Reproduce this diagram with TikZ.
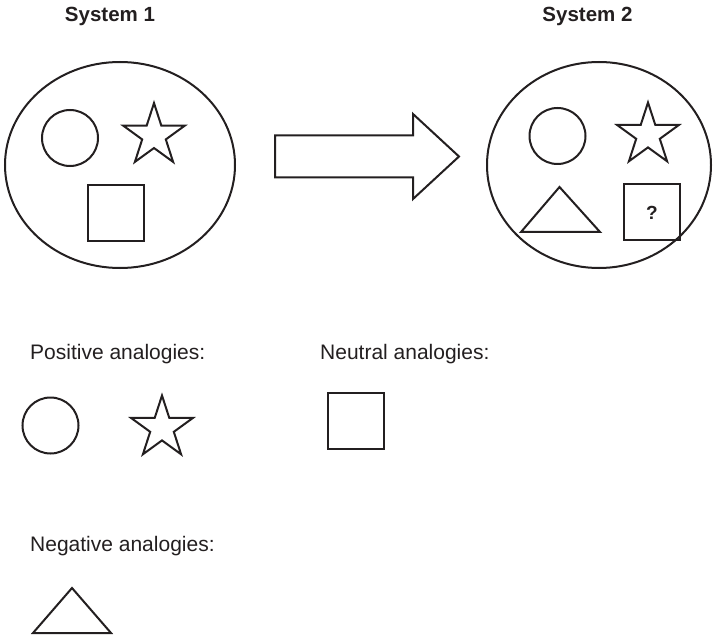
\documentclass[tikz,border=0pt]{standalone}
\usepackage{fontspec}
\setmainfont{Liberation Sans}
\usetikzlibrary{shapes.geometric}
\definecolor{ink}{HTML}{231F20}
\tikzset{
  shp/.style={draw=ink, line width=2pt, inner sep=0pt, outer sep=0pt},
  oval/.style={shp, ellipse},
  rnd/.style={shp, circle, minimum size=56pt},
  sq/.style={shp, rectangle, minimum size=56pt},
  starshape/.style={shp, star, star points=5, star point ratio=2.618, minimum size=65pt},
  lbl/.style={text=ink, inner sep=0pt, font=\fontsize{21}{25}\selectfont},
  title/.style={lbl, font=\fontsize{20.5}{24}\selectfont\bfseries},
}
\begin{document}
\begin{tikzpicture}[x=1pt,y=-1pt]
\useasboundingbox (0,0) rectangle (714,636);
% titles
\node[title, anchor=base] (t1) at (110,22) {System 1};
\node[title, anchor=base] (t2) at (587.5,22) {System 2};
% system 1
\node[oval, minimum width=230pt, minimum height=206pt] (e1) at (120,165) {};
\node[rnd] (c1) at (70,138) {};
\node[starshape] (s1) at (154,135.6) {};
\node[sq] (q1) at (116,213) {};
% system 2
\node[oval, minimum width=224pt, minimum height=206pt] (e2) at (599,165) {};
\node[rnd] (c2) at (557.5,136) {};
\node[starshape] (s2) at (648,135) {};
\node[sq] (q2) at (652,212) {};
\node[title, font=\fontsize{19}{22}\selectfont\bfseries] (qm) at (652,213) {?};
\draw[draw=ink, line width=2pt, line join=miter] (521,232) -- (559.5,187) -- (600,232) -- cycle;
% arrow
\draw[draw=ink, line width=2pt, line join=miter] (275,135.5) -- (413,135.5) -- (413,114) -- (459,156.5) -- (413,199) -- (413,177.5) -- (275,177.5) -- cycle;
% analogies
\node[lbl, anchor=base west] (pos) at (30,359) {Positive analogies:};
\node[lbl, anchor=base west] (neu) at (320,359) {Neutral analogies:};
\node[lbl, anchor=base west] (neg) at (30,551) {Negative analogies:};
\node[rnd] (c3) at (50.5,425.5) {};
\node[starshape] (s3) at (162,428) {};
\node[sq] (q3) at (356,421) {};
\draw[draw=ink, line width=2pt, line join=miter] (33,633) -- (72,588) -- (111,633) -- cycle;
\end{tikzpicture}
\end{document}
